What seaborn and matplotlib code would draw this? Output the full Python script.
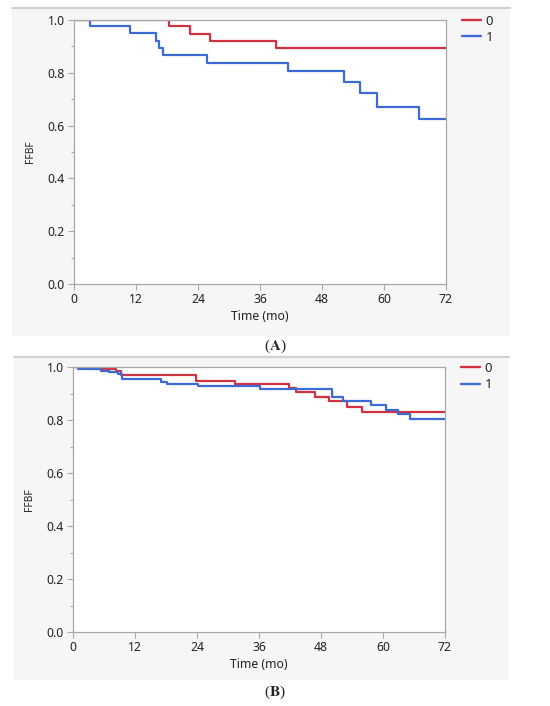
import matplotlib
matplotlib.use("Agg")
import matplotlib.pyplot as plt
from matplotlib.patches import Rectangle
from matplotlib.lines import Line2D
from matplotlib.ticker import MultipleLocator
import seaborn as sns
import pandas as pd

# Panel A: Kaplan-Meier step curves (time in months, FFBF)
a_times_0 = [0, 18.3, 22.5, 26.3, 39.0, 72]
a_surv_0 = [1.0, 0.978, 0.948, 0.922, 0.893, 0.893]
a_times_1 = [0, 3.1, 10.8, 15.8, 16.4, 17.2, 25.8, 41.5, 52.3, 55.4, 58.7, 66.7, 72]
a_surv_1 = [1.0, 0.976, 0.949, 0.920, 0.893, 0.866, 0.837, 0.807, 0.767, 0.722, 0.672, 0.626, 0.626]

# Panel B
b_times_0 = [0, 4.0, 8.3, 9.2, 23.9, 31.4, 41.8, 43.1, 46.9, 49.6, 53.0, 56.0, 72]
b_surv_0 = [1.0, 0.994, 0.985, 0.971, 0.948, 0.936, 0.920, 0.906, 0.889, 0.873, 0.851, 0.830, 0.830]
b_times_1 = [0, 1.0, 5.5, 7.0, 8.7, 9.5, 17.0, 18.2, 24.2, 36.2, 50.1, 52.3, 57.6, 60.5, 63.0, 65.2, 72]
b_surv_1 = [1.0, 0.994, 0.987, 0.982, 0.975, 0.957, 0.946, 0.937, 0.928, 0.917, 0.889, 0.873, 0.856, 0.839, 0.824, 0.806, 0.806]

group_labels = ["0", "1"]
x_ticks = [0, 12, 24, 36, 48, 60, 72]
panel_labels = ["A", "B"]

palette = {"0": "#d0323f", "1": "#3d6bd6"}
frame_gray = "#a8a8a8"


def build_frame(times_0, surv_0, times_1, surv_1):
    """Stack the two groups into one long DataFrame for seaborn."""
    df0 = pd.DataFrame({"time": times_0, "ffbf": surv_0, "group": group_labels[0]})
    df1 = pd.DataFrame({"time": times_1, "ffbf": surv_1, "group": group_labels[1]})
    return pd.concat([df0, df1], ignore_index=True)


def add_panel_background(fig, x0, y0, x1, y1):
    """Light gray panel with a thin rule along its top edge (pixel coords)."""
    W, H = 550, 706
    fig.patches.append(Rectangle((x0 / W, 1 - y1 / H), (x1 - x0) / W, (y1 - y0) / H,
                                 transform=fig.transFigure, facecolor="#f6f6f6",
                                 edgecolor="none", zorder=-3))
    fig.lines.append(Line2D([x0 / W, x1 / W], [1 - y0 / H, 1 - y0 / H],
                            transform=fig.transFigure, color="#d2d2d2", lw=1.6, zorder=-2))


def plot_km(ax, df):
    """Draw step curves and style the axes like the JMP output."""
    sns.lineplot(data=df, x="time", y="ffbf", hue="group", palette=palette,
                 estimator=None, drawstyle="steps-post", linewidth=1.6, ax=ax)

    # JMP hides the part of the curve sitting on the top frame at 1.0
    clip = Rectangle((0, 0), 72, 0.998, transform=ax.transData)
    for line in ax.lines:
        line.set_clip_path(clip)

    ax.set_facecolor("white")
    ax.set_xlim(0, 72)
    ax.set_ylim(0, 1.0)
    ax.set_xticks(x_ticks)
    ax.set_yticks([0, 0.2, 0.4, 0.6, 0.8, 1.0])
    ax.set_yticklabels(["0.0", "0.2", "0.4", "0.6", "0.8", "1.0"])
    ax.yaxis.set_minor_locator(MultipleLocator(0.1))
    ax.tick_params(axis="both", which="major", direction="out", length=4.5, width=0.8,
                   color=frame_gray, labelsize=8.8, labelcolor="#222222", pad=2,
                   bottom=True, left=True)
    ax.tick_params(axis="y", which="minor", direction="out", length=2.5, width=0.8,
                   color=frame_gray, left=True)

    for spine in ax.spines.values():
        spine.set_color(frame_gray)
        spine.set_linewidth(0.9)
        spine.set_zorder(3)

    ax.set_xlabel("Time (mo)", fontsize=8.8, color="#222222", labelpad=3)
    ax.set_ylabel("FFBF", fontsize=7.4, color="#222222", labelpad=8)

    leg = ax.legend(loc="upper left", bbox_to_anchor=(1.01, 1.065), frameon=False,
                    handlelength=1.45, handletextpad=0.35, labelspacing=0.25, fontsize=9.5)
    for line in leg.get_lines():
        line.set_linewidth(1.7)


sns.set_theme(style="white")
plt.rcParams["font.family"] = ["Noto Sans", "DejaVu Sans"]
plt.rcParams["mathtext.fontset"] = "stix"

fig = plt.figure(figsize=(5.5, 7.06), dpi=100)
fig.patch.set_facecolor("white")

add_panel_background(fig, 12, 8, 510, 336)
add_panel_background(fig, 14, 357, 509, 680)

ax_a = fig.add_axes([74 / 550, 1 - 284 / 706, 372 / 550, 264 / 706])
ax_b = fig.add_axes([73 / 550, 1 - 632 / 706, 372 / 550, 264.7 / 706])

plot_km(ax_a, build_frame(a_times_0, a_surv_0, a_times_1, a_surv_1))
plot_km(ax_b, build_frame(b_times_0, b_surv_0, b_times_1, b_surv_1))

# Panel captions: regular parentheses, bold letter, serif
for label, y_px in zip(panel_labels, [346, 692]):
    fig.text(275 / 550, 1 - y_px / 706, r"($\mathbf{%s}$)" % label,
             ha="center", va="center", fontsize=11,
             family=["Liberation Serif", "DejaVu Serif"])

fig.savefig("out.png", dpi=100)
